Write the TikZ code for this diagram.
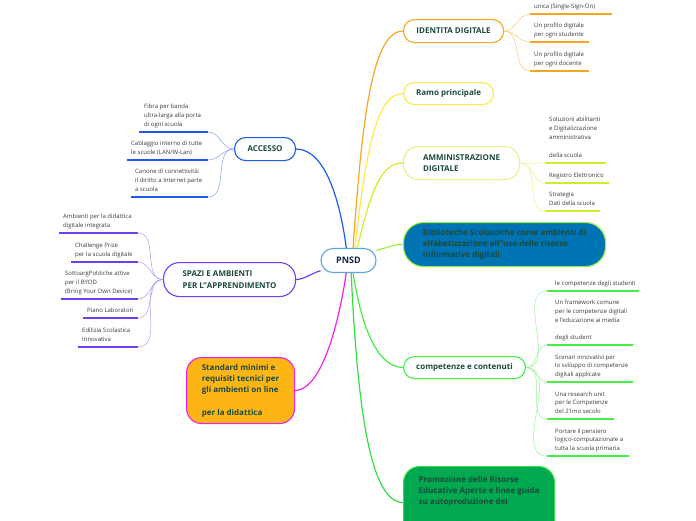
\documentclass[tikz,border=0pt]{standalone}
\usepackage{fontspec}
\setmainfont{Open Sans}
\usetikzlibrary{positioning}
\definecolor{idcol}{HTML}{F5A623}
\definecolor{idlight}{HTML}{FAC878}
\definecolor{ramocol}{HTML}{FFE84A}
\definecolor{ammcol}{HTML}{CDEE2A}
\definecolor{ammlight}{HTML}{E0F48C}
\definecolor{bibfill}{HTML}{0073B3}
\definecolor{bibline}{HTML}{99EE44}
\definecolor{compcol}{HTML}{44EE44}
\definecolor{complight}{HTML}{9AF29A}
\definecolor{promfill}{HTML}{00A84F}
\definecolor{promline}{HTML}{33DD44}
\definecolor{acccol}{HTML}{1F5BEA}
\definecolor{acclight}{HTML}{86A4F4}
\definecolor{spacol}{HTML}{7040EE}
\definecolor{spalight}{HTML}{B09AF5}
\definecolor{stdfill}{HTML}{FDB515}
\definecolor{stdcol}{HTML}{EE22EE}
\definecolor{pnsdcol}{HTML}{5AA8DD}
\definecolor{pnsdtext}{HTML}{0E2A48}
\definecolor{hubtext}{HTML}{1B4A3C}
\definecolor{leaftext}{HTML}{3A3A3A}

\begin{document}
\begin{tikzpicture}[x=1pt, y=-1pt,
  hub/.style={draw, line width=1.1pt, fill=white, text=hubtext, align=left, inner sep=0pt,
    font=\bfseries\fontsize{8}{11.2}\selectfont},
  leaf/.style={inner sep=0pt, align=left, text=leaftext, font=\fontsize{6}{8.8}\selectfont,
    execute at end node=\strut},
  branch/.style={line width=1.2pt},
  twig/.style={line width=0.5pt},
  uline/.style={line width=1.8pt}]
  \useasboundingbox (0,0) rectangle (696,520);
  \clip (0,0) rectangle (696,520);

  \node[hub, draw=pnsdcol, text=pnsdtext, rounded corners=12pt, minimum width=55pt, minimum height=24pt,
    font=\bfseries\fontsize{9}{11}\selectfont] (pnsd) at (348.5,260.5) {PNSD};
  \node[hub, draw=idcol, rounded corners=11pt, minimum width=100pt, minimum height=23pt, anchor=north west] (id) at (403,19) {IDENTITA DIGITALE};
  \node[hub, draw=ramocol, rounded corners=11pt, minimum width=90pt, minimum height=22pt, anchor=north west] (ramo) at (403,82) {Ramo principale};
  \node[hub, draw=ammlight, rounded corners=15pt, minimum width=116pt, minimum height=33pt, anchor=north west] (amm) at (403,146) {AMMINISTRAZIONE\\DIGITALE};
  \node[hub, draw=bibline, fill=bibfill, rounded corners=20pt, minimum width=202pt, minimum height=44pt, anchor=north west] (bib) at (403,222)
    {Biblioteche Scolastiche come ambienti di\\alfabetizzazione all"uso delle risorse\\informative digitali};
  \node[hub, draw=compcol, rounded corners=11pt, minimum width=122pt, minimum height=22pt, anchor=north west] (comp) at (403,356) {competenze e contenuti};
  \node[hub, draw=promline, fill=promfill, rounded corners=16pt, minimum width=151pt, minimum height=72pt, anchor=north west] (prom) at (403,466)
    {Promozione delle Risorse\\Educative Aperte e linee guida\\su autoproduzione dei\\~\\contenuti didattici digitali};
  \node[hub, draw=acccol, rounded corners=11pt, minimum width=61pt, minimum height=23pt, anchor=north west] (acc) at (234,137) {ACCESSO};
  \node[hub, draw=spacol, rounded corners=16pt, minimum width=132pt, minimum height=34pt, anchor=north west] (spazi) at (163,262) {SPAZI E AMBIENTI\\PER L"APPRENDIMENTO};
  \node[hub, draw=stdcol, fill=stdfill, rounded corners=15pt, minimum width=108pt, minimum height=66pt, anchor=north west] (std) at (186,357)
    {Standard minimi e\\requisiti tecnici per\\gli ambienti on line\\~\\per la didattica};

  \draw[branch, idcol] (pnsd.70) .. controls (362,120) and (372,31) .. (id.west);
  \draw[branch, ramocol] (pnsd.63) .. controls (365,160) and (375,93) .. (ramo.west);
  \draw[branch, ammcol] (pnsd.55) .. controls (370,195) and (380,162) .. (amm.west);
  \draw[branch, bibline] (pnsd.20) .. controls (390,247) and (395,244) .. (bib.west);
  \draw[branch, compcol] (pnsd.-70) .. controls (362,330) and (378,367) .. (comp.west);
  \draw[branch, promline] (pnsd.-78) .. controls (358,420) and (372,502) .. (prom.west);
  \draw[branch, acccol] (pnsd.100) .. controls (340,200) and (325,149) .. (acc.east);
  \draw[branch, spacol] (pnsd.200) .. controls (310,274) and (305,279) .. (spazi.east);
  \draw[branch, stdcol] (pnsd.-100) .. controls (336,340) and (318,390) .. (std.east);

  \draw[uline, idcol] (530,14) coordinate (id1) -- ++(82,0);
  \draw[uline, idcol] (530,42) coordinate (id2) -- ++(59,0);
  \draw[uline, idcol] (530,71) coordinate (id3) -- ++(59,0);
  \node[leaf, above right=3pt and 4pt of id1] (id1t) {unica (Single-Sign-On)};
  \node[leaf, above right=3pt and 4pt of id2] (id2t) {Un profilo digitale\\per ogni studente};
  \node[leaf, above right=3pt and 4pt of id3] (id3t) {Un profilo digitale\\per ogni docente};
  \draw[twig, idlight] (id.east) to[out=0, in=180] (id1);
  \draw[twig, idlight] (id.east) to[out=0, in=180] (id2);
  \draw[twig, idlight] (id.east) to[out=0, in=180] (id3);

  \draw[uline, ammcol] (545,163) coordinate (am1) -- ++(61,0);
  \draw[uline, ammcol] (545,183) coordinate (am2) -- ++(64,0);
  \draw[uline, ammcol] (545,211) coordinate (am3) -- ++(55,0);
  \node[leaf, above right=3pt and 4pt of am1] (am1t) {Soluzioni abilitanti\\e Digitalizzazione\\amministrativa\\~\\della scuola};
  \node[leaf, above right=3pt and 4pt of am2] (am2t) {Registro Elettronico};
  \node[leaf, above right=3pt and 4pt of am3] (am3t) {Strategia\\Dati della scuola};
  \draw[twig, ammlight] (amm.east) to[out=0, in=180] (am1);
  \draw[twig, ammlight] (amm.east) to[out=0, in=180] (am2);
  \draw[twig, ammlight] (amm.east) to[out=0, in=180] (am3);

  \draw[uline, compcol] (547,291) coordinate (co1) -- ++(92,0);
  \draw[uline, compcol] (547,345) coordinate (co2) -- ++(86,0);
  \draw[uline, compcol] (547,382) coordinate (co3) -- ++(86,0);
  \draw[uline, compcol] (547,419) coordinate (co4) -- ++(67,0);
  \draw[uline, compcol] (547,456) coordinate (co5) -- ++(82,0);
  \node[leaf, above right=2.5pt and 8pt of co1] (co1t) {le competenze degli studenti};
  \node[leaf, above right=2.5pt and 8pt of co2] (co2t) {Un framework comune\\per le competenze digitali\\e l'educazione ai media\\~\\degli student};
  \node[leaf, above right=2.5pt and 8pt of co3] (co3t) {Scenari innovativi per\\lo sviluppo di competenze\\digitali applicate};
  \node[leaf, above right=2.5pt and 8pt of co4] (co4t) {Una research unit\\per le Competenze\\del 21mo secolo};
  \node[leaf, above right=2.5pt and 8pt of co5] (co5t) {Portare il pensiero\\logico-computazionale a\\tutta la scuola primaria};
  \draw[twig, complight] (comp.east) to[out=0, in=180] (co1);
  \draw[twig, complight] (comp.east) to[out=0, in=180] (co2);
  \draw[twig, complight] (comp.east) to[out=0, in=180] (co3);
  \draw[twig, complight] (comp.east) to[out=0, in=180] (co4);
  \draw[twig, complight] (comp.east) to[out=0, in=180] (co5);

  \draw[uline, acccol] (139,132) coordinate (ac1) -- ++(69,0) coordinate (ac1e);
  \draw[uline, acccol] (127,160) coordinate (ac2) -- ++(81,0) coordinate (ac2e);
  \draw[uline, acccol] (131,197) coordinate (ac3) -- ++(77,0) coordinate (ac3e);
  \node[leaf, above right=3pt and 5pt of ac1] (ac1t) {Fibra per banda\\ultra-larga alla porta\\di ogni scuola};
  \node[leaf, above right=3pt and 4pt of ac2] (ac2t) {Cablaggio interno di tutte\\le scuole (LAN/W-Lan)};
  \node[leaf, above right=3pt and 4pt of ac3] (ac3t) {Canone di connettività:\\il diritto a Internet parte\\a scuola};
  \draw[twig, acclight] (acc.west) to[out=180, in=0] (ac1e);
  \draw[twig, acclight] (acc.west) to[out=180, in=0] (ac2e);
  \draw[twig, acclight] (acc.west) to[out=180, in=0] (ac3e);

  \draw[uline, spacol] (59,233) coordinate (sp1) -- ++(79,0) coordinate (sp1e);
  \draw[uline, spacol] (71,262) coordinate (sp2) -- ++(67,0) coordinate (sp2e);
  \draw[uline, spacol] (61,299) coordinate (sp3) -- ++(77,0) coordinate (sp3e);
  \draw[uline, spacol] (83,318) coordinate (sp4) -- ++(55,0) coordinate (sp4e);
  \draw[uline, spacol] (78,347) coordinate (sp5) -- ++(60,0) coordinate (sp5e);
  \node[leaf, above right=3pt and 4pt of sp1] (sp1t) {Ambienti per la didattica\\digitale integrata};
  \node[leaf, above right=3pt and 4pt of sp2] (sp2t) {Challenge Prize\\per la scuola digitale};
  \node[leaf, above right=3pt and 4pt of sp3] (sp3t) {SottoargPolitiche attive\\per il BYOD\\(Bring Your Own Device)};
  \node[leaf, above right=3pt and 4pt of sp4] (sp4t) {Piano Laboratori};
  \node[leaf, above right=3pt and 4pt of sp5] (sp5t) {Edilizia Scolastica\\Innovativa};
  \draw[twig, spalight] (spazi.west) to[out=180, in=0] (sp1e);
  \draw[twig, spalight] (spazi.west) to[out=180, in=0] (sp2e);
  \draw[twig, spalight] (spazi.west) to[out=180, in=0] (sp3e);
  \draw[twig, spalight] (spazi.west) to[out=180, in=0] (sp4e);
  \draw[twig, spalight] (spazi.west) to[out=180, in=0] (sp5e);
\end{tikzpicture}
\end{document}
